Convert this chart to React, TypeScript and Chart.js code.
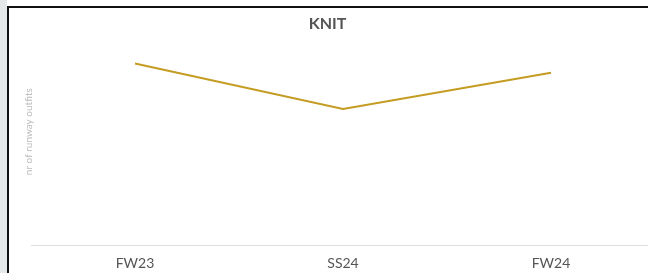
import React, { useEffect, useRef } from "react";
import { Chart, registerables } from "chart.js";

Chart.register(...registerables);

const categories = ["FW23", "SS24", "FW24"];
const knitValues = [40, 30, 38];
const yMin = 0;
const yMax = 50;
const chartTitle = "KNIT";
const yAxisTitle = "nr of runway outfits";

export default function App() {
  const ref = useRef<HTMLCanvasElement | null>(null);

  useEffect(() => {
    if (!ref.current) return;
    const chart = new Chart(ref.current, {
      type: "line",
      data: {
        labels: categories,
        datasets: [
          {
            label: chartTitle,
            data: knitValues,
            borderColor: "#c59c22",
            backgroundColor: "#c59c22",
            borderWidth: 2,
            pointRadius: 0,
            tension: 0,
            fill: false,
          },
        ],
      },
      options: {
        responsive: false,
        animation: false,
        layout: { padding: { left: 0, right: 1, top: 0, bottom: -9 } },
        plugins: {
          legend: { display: false },
          tooltip: { enabled: false },
          title: {
            display: true,
            text: chartTitle,
            color: "#555555",
            font: { family: "Lato", size: 16, weight: "bold", lineHeight: 1.2 },
            padding: { top: 14, bottom: -15 },
          },
        },
        scales: {
          x: {
            offset: true,
            grid: { display: false, drawTicks: false },
            border: { display: true, color: "#dddddd", width: 1 },
            ticks: {
              color: "#555555",
              font: { family: "Lato", size: 14, lineHeight: 1.2 },
              padding: 10,
              maxRotation: 0,
            },
          },
          y: {
            min: yMin,
            max: yMax,
            grid: { display: false, drawTicks: false },
            border: { display: false },
            ticks: { display: false },
            title: {
              display: true,
              text: yAxisTitle,
              color: "#bbbbbb",
              font: { family: "Lato", size: 10, lineHeight: 1 },
              padding: { top: 24, bottom: -3 },
            },
          },
        },
      },
    });
    return () => chart.destroy();
  }, []);

  return (
    <div
      style={{
        position: "absolute",
        left: 0,
        top: 0,
        width: 648,
        height: 273,
        overflow: "hidden",
        background: "#ffffff",
      }}
    >
      <div style={{ position: "absolute", left: 0, top: 0, width: 7, height: 273, background: "#e5e8e9" }} />
      <div style={{ position: "absolute", left: 7, top: 6, width: 2, height: 267, background: "#111111" }} />
      <div style={{ position: "absolute", left: 7, top: 6, width: 641, height: 2, background: "#111111" }} />
      <canvas
        ref={ref}
        width={656}
        height={273}
        style={{ position: "absolute", left: 0, top: 0, width: 656, height: 273 }}
      />
    </div>
  );
}
